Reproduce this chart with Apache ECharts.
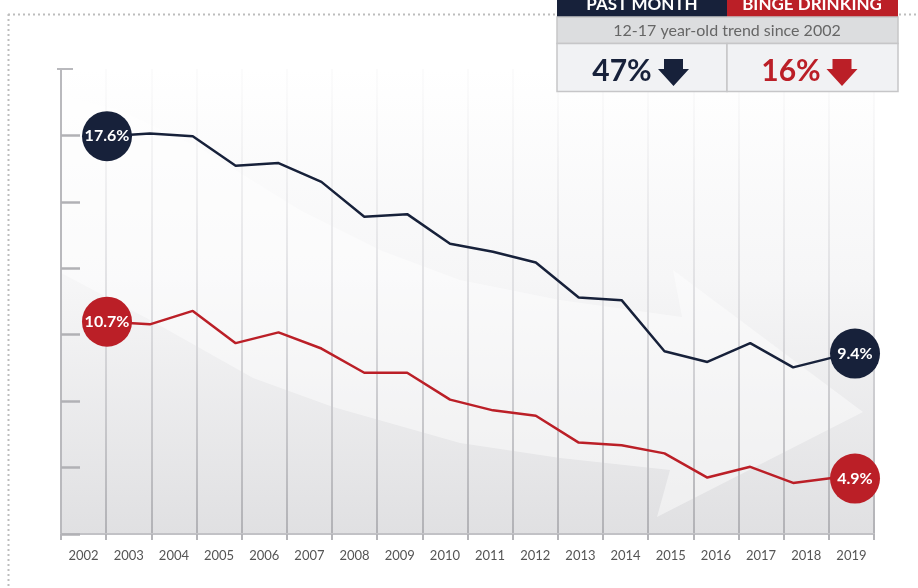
<!DOCTYPE html>
<html>
<head>
<meta charset="utf-8">
<script src="https://cdn.jsdelivr.net/npm/echarts@6/dist/echarts.min.js"></script>
<style>html,body{margin:0;padding:0;background:#fff;}#c{width:918px;height:588px;}</style>
</head>
<body>
<div id="c"></div>
<script>
const years = ['2002','2003','2004','2005','2006','2007','2008','2009','2010','2011','2012','2013','2014','2015','2016','2017','2018','2019'];
const pastMonth = [17.6,17.7,17.6,16.5,16.6,15.9,14.6,14.7,13.6,13.3,12.9,11.6,11.5,9.6,9.2,9.9,9.0,9.4];
const bingeDrinking = [10.7,10.6,11.1,9.9,10.3,9.7,8.8,8.8,7.8,7.4,7.2,6.2,6.1,5.8,4.9,5.3,4.7,4.9];
const boxHeaders = ['PAST MONTH','BINGE DRINKING'];
const boxSubtitle = '12-17 year-old trend since 2002';
const boxStats = ['47%','16%'];

const NAVY = '#17213a';
const RED = '#bb1f27';
const FONT = 'Lato';

function buildData(vals, color, lastOffset) {
  const n = vals.length;
  return vals.map((v, i) => {
    if (i !== 0 && i !== n - 1) return v;
    const off = i === 0 ? [0, 0] : lastOffset;
    return {
      value: v,
      symbol: 'circle',
      symbolSize: 50,
      symbolOffset: off,
      itemStyle: { color: color, opacity: 1 },
      label: {
        show: true, position: 'inside', formatter: '{c}%',
        color: '#fff', fontSize: 16, fontWeight: 'bold', fontFamily: FONT
      }
    };
  });
}

const chart = echarts.init(document.getElementById('c'), null, { renderer: 'canvas' });

function arrow(cx, color) {
  return {
    type: 'polygon', z: 20,
    shape: { points: [[cx - 9.5, 59], [cx + 9.5, 59], [cx + 9.5, 69], [cx + 15.5, 69], [cx, 86], [cx - 15.5, 69], [cx - 9.5, 69]] },
    style: { fill: color }
  };
}

const graphics = [
  { type: 'rect', z: -10, silent: true, shape: { x: 61, y: 69, width: 813, height: 465 },
    style: { fill: { type: 'linear', x: 0, y: 0, x2: 0, y2: 1, colorStops: [
      { offset: 0, color: '#ffffff' }, { offset: 0.45, color: '#f6f6f7' }, { offset: 1, color: '#e0e0e2' }] } } },
  { type: 'polygon', z: -9, silent: true,
    shape: { points: [[61,95],[120,110],[200,148],[300,210],[380,250],[460,280],[560,300],[682,317],[673,270],[863,412],[657,517],[670,470],[560,458],[460,443],[333,407],[253,378],[150,320],[61,273]] },
    style: { fill: 'rgba(255,255,255,0.45)' } },
  // dotted frame
  { type: 'line', z: 1, silent: true, shape: { x1: 8, y1: 14.5, x2: 556, y2: 14.5 }, style: { stroke: '#bdbdbd', lineWidth: 2, lineDash: [2, 3] } },
  { type: 'line', z: 1, silent: true, shape: { x1: 899, y1: 14.5, x2: 918, y2: 14.5 }, style: { stroke: '#bdbdbd', lineWidth: 2, lineDash: [2, 3] } },
  { type: 'line', z: 1, silent: true, shape: { x1: 8.5, y1: 14, x2: 8.5, y2: 588 }, style: { stroke: '#bdbdbd', lineWidth: 2, lineDash: [2, 3] } },
  // y axis top cap
  { type: 'line', z: 5, silent: true, shape: { x1: 57, y1: 69, x2: 73, y2: 69 }, style: { stroke: '#b9b9bd', lineWidth: 2 } },
  // info box
  { type: 'rect', z: 10, shape: { x: 557, y: -2, width: 170, height: 19 }, style: { fill: NAVY } },
  { type: 'rect', z: 10, shape: { x: 727, y: -2, width: 171, height: 19 }, style: { fill: RED } },
  { type: 'rect', z: 10, shape: { x: 557, y: 17, width: 341, height: 26.5 }, style: { fill: '#dcdddf', stroke: '#c6c6c8', lineWidth: 1.5 } },
  { type: 'rect', z: 10, shape: { x: 557, y: 43.5, width: 170, height: 48 }, style: { fill: '#f1f2f4', stroke: '#c6c6c8', lineWidth: 1.5 } },
  { type: 'rect', z: 10, shape: { x: 727, y: 43.5, width: 171, height: 48 }, style: { fill: '#f1f2f4', stroke: '#c6c6c8', lineWidth: 1.5 } },
  { type: 'text', z: 21, x: 642, y: 5, style: { text: boxHeaders[0], fill: '#fff', font: 'bold 17px ' + FONT, textAlign: 'center', textVerticalAlign: 'middle' } },
  { type: 'text', z: 21, x: 812, y: 5, style: { text: boxHeaders[1], fill: '#fff', font: 'bold 17px ' + FONT, textAlign: 'center', textVerticalAlign: 'middle' } },
  { type: 'text', z: 21, x: 727, y: 31, style: { text: boxSubtitle, fill: '#666', font: '16px ' + FONT, textAlign: 'center', textVerticalAlign: 'middle' } },
  { type: 'text', z: 21, x: 622, y: 71, style: { text: boxStats[0], fill: NAVY, font: 'bold 30px ' + FONT, textAlign: 'center', textVerticalAlign: 'middle' } },
  { type: 'text', z: 21, x: 791, y: 71, style: { text: boxStats[1], fill: RED, font: 'bold 30px ' + FONT, textAlign: 'center', textVerticalAlign: 'middle' } },
  arrow(673.5, NAVY),
  arrow(842, RED)
];

const option = {
  animation: false,
  backgroundColor: '#ffffff',
  graphic: { elements: graphics },
  grid: [
    { left: 61, right: 44, top: 69, bottom: 54 },
    { left: 107, right: 82, top: 69, bottom: 54 }
  ],
  xAxis: [
    {
      type: 'category', gridIndex: 0, data: years, boundaryGap: true,
      axisLine: { show: true, lineStyle: { color: '#c2c2c6', width: 2 } },
      axisTick: { show: true, length: 6, lineStyle: { color: '#b5b5b9', width: 2 } },
      axisLabel: { color: '#555', fontSize: 13, fontFamily: FONT, margin: 15 },
      splitLine: { show: true, lineStyle: { width: 2, color: { type: 'linear', global: true, x: 0, y: 85, x2: 0, y2: 534,
        colorStops: [{ offset: 0, color: 'rgba(235,235,237,0.2)' }, { offset: 0.5, color: '#dddde0' }, { offset: 1, color: '#b2b2b6' }] } } }
    },
    { type: 'category', gridIndex: 1, data: years, boundaryGap: false, show: false }
  ],
  yAxis: [
    {
      type: 'value', gridIndex: 0, min: 0, max: 7, interval: 1,
      axisLine: { show: true, lineStyle: { color: '#b9b9bd', width: 2 } },
      axisTick: { show: true, inside: true, length: 19, customValues: [0, 1, 2, 3, 4, 5, 6], lineStyle: { color: '#b1b1b5', width: 2.5 } },
      axisLabel: { show: false },
      splitLine: { show: false }
    },
    { type: 'value', gridIndex: 1, min: 2.8, max: 20.1, show: false, splitLine: { show: false } }
  ],
  series: [
    {
      name: 'Past month', type: 'line', xAxisIndex: 1, yAxisIndex: 1, z: 5,
      data: buildData(pastMonth, NAVY, [19, -3]),
      symbol: 'circle', symbolSize: 0, showSymbol: true,
      lineStyle: { color: NAVY, width: 2.5 }, itemStyle: { color: NAVY },
      emphasis: { disabled: true }, silent: true
    },
    {
      name: 'Binge drinking', type: 'line', xAxisIndex: 1, yAxisIndex: 1, z: 5,
      data: buildData(bingeDrinking, RED, [19, 1]),
      symbol: 'circle', symbolSize: 0, showSymbol: true,
      lineStyle: { color: RED, width: 2.5 }, itemStyle: { color: RED },
      emphasis: { disabled: true }, silent: true
    }
  ]
};
chart.setOption(option);
</script>
</body>
</html>
